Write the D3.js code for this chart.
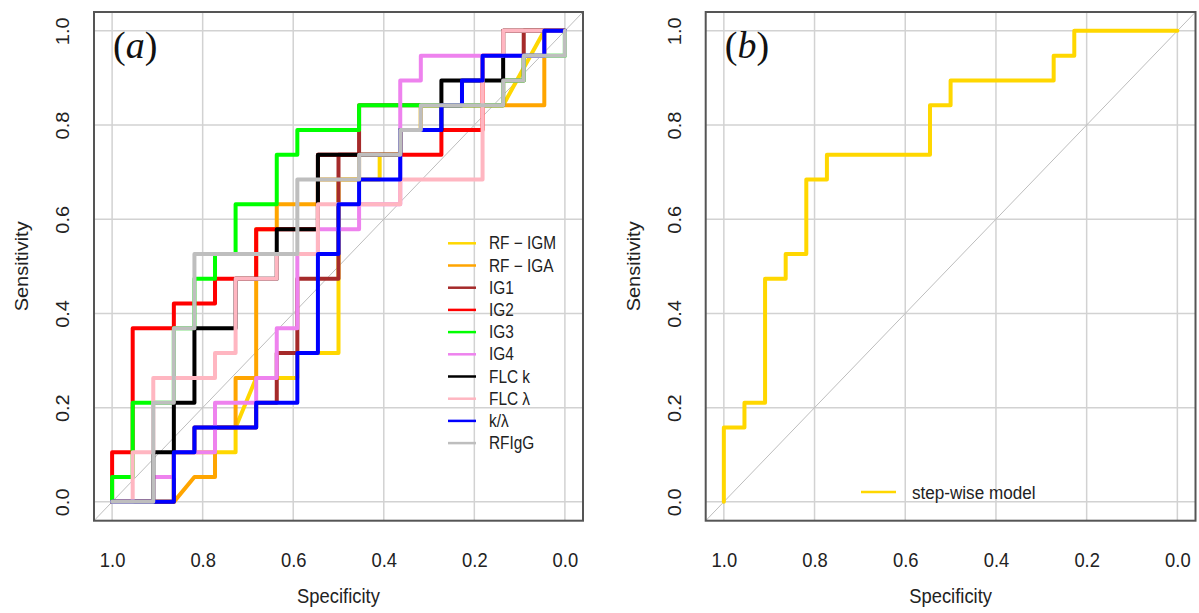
<!DOCTYPE html>
<html><head><meta charset="utf-8">
<script src="https://cdn.jsdelivr.net/npm/d3@7"></script>
<style>html,body{margin:0;padding:0;background:#fff;} svg{display:block;}</style>
</head><body>
<svg id="c" width="1199" height="613"></svg>
<script>
// ---------- data ----------
// ROC vertices as [false positives, true positives] counts; 22 controls, 19 cases
const N_NEG = 22, N_POS = 19;
const tickValues = [0, 0.2, 0.4, 0.6, 0.8, 1.0];

const seriesNames  = ["RF \u2212 IGM", "RF \u2212 IGA", "IG1", "IG2", "IG3", "IG4", "FLC k", "FLC \u03bb", "k/\u03bb", "RFIgG"];
const seriesColors = ["#FFD700", "#FFA500", "#A52A2A", "#FF0000", "#00FF00", "#EE82EE", "#000000", "#FFB6C1", "#0000FF", "#BEBEBE"];

const rfIgm = [[0,0],[3,0],[3,2],[6,2],[6,3],[7,5],[9,5],[9,6],[11,6],[11,13],[13,13],[13,14],[14,14],[14,15],[15,15],[15,16],[19,16],[21,19],[22,19]];
const rfIga = [[0,0],[3,0],[4,1],[5,1],[5,3],[6,3],[6,5],[7,5],[7,11],[8,11],[8,12],[10,12],[10,13],[12,13],[12,14],[14,14],[14,15],[15,15],[15,16],[19,16],[21,16],[21,19],[22,19]];
const ig1   = [[0,0],[3,0],[3,2],[4,2],[4,3],[7,3],[7,4],[8,4],[8,6],[9,6],[9,9],[11,9],[11,14],[12,14],[12,16],[15,16],[19,16],[19,17],[20,17],[20,19],[22,19]];
const ig2   = [[0,0],[0,2],[1,2],[1,7],[3,7],[3,8],[5,8],[5,9],[7,9],[7,11],[8,11],[10,11],[10,14],[14,14],[16,14],[16,15],[18,15],[18,18],[19,18],[19,19],[22,19]];
const ig3   = [[0,0],[0,1],[1,1],[1,4],[2,4],[3,4],[3,7],[4,7],[4,9],[5,9],[5,10],[6,10],[6,12],[8,12],[8,14],[9,14],[9,15],[12,15],[12,16],[15,16],[19,16],[19,17],[20,17],[20,18],[22,18],[22,19]];
const ig4   = [[0,0],[2,0],[2,1],[3,1],[3,2],[5,2],[5,4],[7,4],[7,5],[8,5],[8,7],[9,7],[9,10],[10,10],[10,11],[12,11],[12,12],[14,12],[14,17],[15,17],[15,18],[18,18],[20,18],[21,18],[21,19],[22,19]];
const flcK  = [[0,0],[2,0],[2,2],[3,2],[3,4],[4,4],[4,7],[6,7],[6,9],[8,9],[8,10],[8,11],[10,11],[10,14],[12,14],[14,14],[14,15],[16,15],[16,17],[19,17],[19,18],[19,19],[22,19]];
const flcL  = [[0,0],[1,0],[1,2],[2,2],[2,5],[5,5],[5,6],[6,6],[6,9],[8,9],[8,10],[10,10],[10,12],[14,12],[14,13],[18,13],[18,18],[19,18],[19,19],[22,19]];
const kLam  = [[0,0],[2,0],[3,0],[3,2],[4,2],[4,3],[7,3],[7,4],[9,4],[9,6],[10,6],[10,10],[11,10],[11,12],[12,12],[12,13],[14,13],[14,15],[16,15],[16,16],[17,16],[17,17],[18,17],[18,18],[20,18],[21,18],[21,19],[22,19]];
const rfIgg = [[0,0],[2,0],[2,4],[3,4],[3,7],[4,7],[4,10],[9,10],[9,13],[12,13],[12,14],[14,14],[14,15],[15,15],[15,16],[19,16],[19,17],[20,17],[20,18],[22,18],[22,19]];
const panelASeries = [rfIgm, rfIga, ig1, ig2, ig3, ig4, flcK, flcL, kLam, rfIgg];

const stepWiseName  = "step-wise model";
const stepWiseColor = "#FFD700";
const stepWise = [[0,0],[0,3],[1,3],[1,4],[2,4],[2,9],[3,9],[3,10],[4,10],[4,13],[5,13],[5,14],[10,14],[10,16],[11,16],[11,17],[16,17],[16,18],[17,18],[17,19],[22,19]];

// ---------- drawing ----------
const svg = d3.select("#c");
const FONT = "'Liberation Sans', Arial, sans-serif";
const toSpec = p => 1 - p[0] / N_NEG;
const toSens = p => p[1] / N_POS;

function panel(left, right, top, bottom, tag) {
  const g = svg.append("g");
  const x = d3.scaleLinear().domain([1.04, -0.04]).range([left, right]);
  const y = d3.scaleLinear().domain([-0.04, 1.04]).range([bottom, top]);
  const clipId = "clip" + tag;
  svg.append("clipPath").attr("id", clipId).append("rect")
    .attr("x", left).attr("y", top).attr("width", right - left).attr("height", bottom - top);

  // grid
  g.append("g").selectAll("line.v").data(tickValues).join("line")
    .attr("x1", d => x(d)).attr("x2", d => x(d)).attr("y1", top).attr("y2", bottom)
    .attr("stroke", "#d2d2d2").attr("stroke-width", 1.5);
  g.append("g").selectAll("line.h").data(tickValues).join("line")
    .attr("y1", d => y(d)).attr("y2", d => y(d)).attr("x1", left).attr("x2", right)
    .attr("stroke", "#d2d2d2").attr("stroke-width", 1.5);

  // diagonal
  g.append("line").attr("clip-path", `url(#${clipId})`)
    .attr("x1", x(1.04)).attr("y1", y(-0.04)).attr("x2", x(-0.04)).attr("y2", y(1.04))
    .attr("stroke", "#bdbdbd").attr("stroke-width", 1);

  // x axis labels
  const xa = g.append("g").attr("transform", `translate(0,${bottom})`)
    .call(d3.axisBottom(x).tickValues(tickValues).tickSize(0).tickFormat(d3.format(".1f")));
  xa.select(".domain").remove();
  xa.selectAll("text").attr("y", 0).attr("dy", 0).attr("transform", "translate(0,46) scale(0.92,1)")
    .attr("font-size", 20).attr("font-family", FONT).attr("fill", "#222");

  // y axis labels
  const ya = g.append("g").attr("transform", `translate(${left},0)`)
    .call(d3.axisLeft(y).tickValues(tickValues).tickSize(0).tickFormat(d3.format(".1f")));
  ya.select(".domain").remove();
  ya.selectAll("text").attr("x", 0).attr("y", 0).attr("dy", 0)
    .attr("transform", "translate(-25,0) rotate(-90) scale(1,0.92)")
    .attr("text-anchor", "middle")
    .attr("font-size", 20).attr("font-family", FONT).attr("fill", "#222");

  // axis titles
  g.append("text").attr("x", (left + right) / 2).attr("y", 603).attr("text-anchor", "middle")
    .attr("font-size", 20).attr("font-family", FONT).attr("fill", "#222")
    .attr("transform", `translate(${(left + right) / 2 * 0.08},0) scale(0.92,1)`)
    .text("Specificity");
  g.append("text").attr("transform", `translate(${left - 66},${(top + bottom) / 2}) rotate(-90) scale(1,0.92)`)
    .attr("text-anchor", "middle").attr("font-size", 20).attr("font-family", FONT).attr("fill", "#222")
    .text("Sensitivity");

  // panel tag
  const t = g.append("text").attr("x", x(1) + 1).attr("y", 58)
    .attr("font-family", "'Liberation Serif', 'DejaVu Serif', serif").attr("font-size", 38).attr("fill", "#111");
  t.append("tspan").text("(");
  t.append("tspan").attr("font-style", "italic").text(tag);
  t.append("tspan").text(")");

  return {g, x, y, clipId};
}

function drawCurve(p, data, color) {
  const line = d3.line().x(d => p.x(toSpec(d))).y(d => p.y(toSens(d)));
  p.g.append("path").datum(data).attr("d", line)
    .attr("fill", "none").attr("stroke", color).attr("stroke-width", 4)
    .attr("stroke-linejoin", "round").attr("stroke-linecap", "round");
}

function frame(p, left, right, top, bottom) {
  p.g.append("rect").attr("x", left).attr("y", top).attr("width", right - left).attr("height", bottom - top)
    .attr("fill", "none").attr("stroke", "#555").attr("stroke-width", 2);
}

// Panel (a)
const A = {l: 94, r: 583, t: 12, b: 520.7};
const pa = panel(A.l, A.r, A.t, A.b, "a");
panelASeries.forEach((s, i) => drawCurve(pa, s, seriesColors[i]));
frame(pa, A.l, A.r, A.t, A.b);
const leg = pa.g.append("g");
seriesNames.forEach((n, i) => {
  const yy = 243.3 + i * 22.2;
  leg.append("line").attr("x1", 448).attr("x2", 476).attr("y1", yy).attr("y2", yy)
    .attr("stroke", seriesColors[i]).attr("stroke-width", 2.5);
  leg.append("text").attr("x", 489 / 0.88).attr("y", yy).attr("dy", "0.35em")
    .attr("transform", "scale(0.88,1)")
    .attr("font-size", 17.5).attr("font-family", FONT).attr("fill", "#222").text(n);
});

// Panel (b)
const B = {l: 705.7, r: 1195.5, t: 12, b: 520.7};
const pb = panel(B.l, B.r, B.t, B.b, "b");
drawCurve(pb, stepWise, stepWiseColor);
frame(pb, B.l, B.r, B.t, B.b);
pb.g.append("line").attr("x1", 861).attr("x2", 896).attr("y1", 492).attr("y2", 492)
  .attr("stroke", stepWiseColor).attr("stroke-width", 2.5);
pb.g.append("text").attr("x", 912 / 0.9).attr("y", 492).attr("dy", "0.35em")
  .attr("transform", "scale(0.9,1)")
  .attr("font-size", 19).attr("font-family", FONT).attr("fill", "#222").text(stepWiseName);
</script>
</body></html>
